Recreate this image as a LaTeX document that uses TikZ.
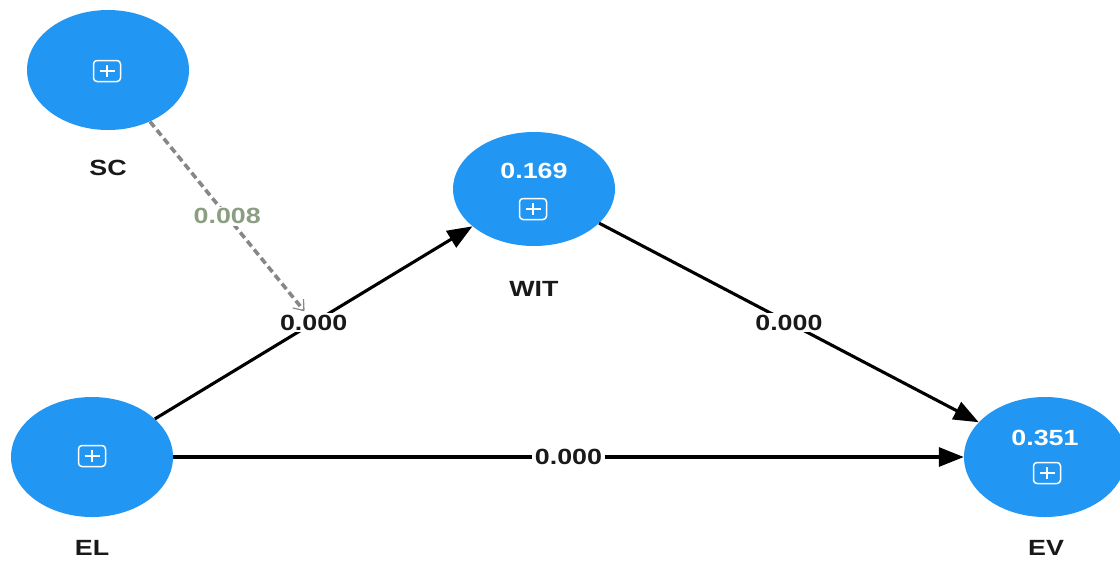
\documentclass[tikz,border=0pt]{standalone}
\usepackage{fontspec}
\setmainfont{Liberation Sans}
\newfontfamily\labfont{Liberation Sans}[FakeStretch=1.22]
\usetikzlibrary{shapes.geometric,arrows.meta}
\definecolor{lvblue}{RGB}{33,150,243}
\definecolor{modgray}{RGB}{135,135,135}
\definecolor{modtext}{RGB}{140,158,130}
\tikzset{
  latent/.style={ellipse,fill=lvblue,minimum width=162pt,minimum height=120pt,inner sep=0pt},
  lvtxt/.style={font=\labfont\bfseries\fontsize{22}{26}\selectfont,inner sep=0pt},
  lvname/.style={lvtxt,text=black!90},
  rsq/.style={lvtxt,text=white},
  expand/.style={draw=white,line width=1.5pt,rounded corners=3.5pt,minimum width=27pt,minimum height=21pt,inner sep=0pt,
    path picture={\draw[white,line width=1.5pt]
      ([xshift=-7.5pt]path picture bounding box.center) -- ([xshift=7.5pt]path picture bounding box.center)
      ([yshift=-6pt]path picture bounding box.center) -- ([yshift=6pt]path picture bounding box.center);}},
  structpath/.style={line width=3.1pt,-{Triangle[length=25pt,width=19pt]}},
  plbl/.style={lvtxt,fill=white,inner xsep=3pt,inner ysep=2pt,text=black!90},
  modline/.style={draw=modgray,line width=3.6pt,dash pattern=on 7pt off 4pt,
    -{Straight Barb[length=9pt,width=14pt,line width=1.2pt]}},
  modlbl/.style={lvtxt,fill=white,inner xsep=3pt,inner ysep=2pt,text=modtext},
}
\begin{document}
\begin{tikzpicture}[x=1pt,y=-1pt]
\useasboundingbox (0,0) rectangle (1120,566);

% constructs
\node[latent] (SC)  at (108,70)   {};
\node[latent,minimum height=114pt] (WIT) at (534,189)  {};
\node[latent] (EL)  at (92,457)   {};
\node[latent] (EV)  at (1045,457) {};

% construct contents
\node[expand] (SCi)  at (107,71)   {};
\node[rsq]    (WITv) at (534,171)  {0.169};
\node[expand] (WITi) at (533,209)  {};
\node[expand] (ELi)  at (92,456)   {};
\node[rsq]    (EVv)  at (1045,438) {0.351};
\node[expand] (EVi)  at (1047,473) {};

% construct names
\node[lvname] (SCn)  at (108,168)  {SC};
\node[lvname] (WITn) at (534,289)  {WIT};
\node[lvname] (ELn)  at (92,548)   {EL};
\node[lvname] (EVn)  at (1046,548) {EV};

% structural paths
\draw[structpath] (EL)  -- node[plbl] (m) {0.000} (WIT);
\draw[structpath] (WIT) -- node[plbl] {0.000} (EV);
\draw[structpath] (EL)  -- node[plbl] {0.000} (EV);

% moderating effect
\draw[modline] (SC) -- node[modlbl] {0.008} (m);
\end{tikzpicture}
\end{document}
